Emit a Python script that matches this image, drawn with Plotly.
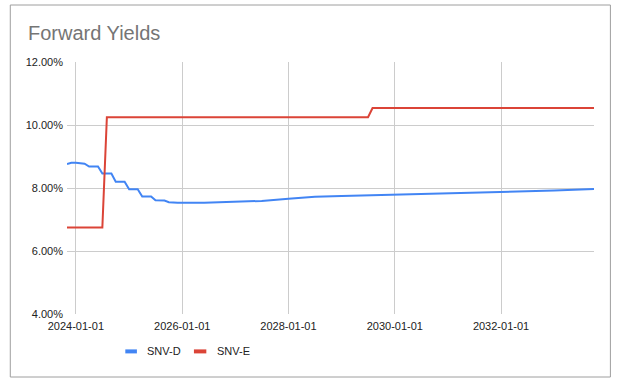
import plotly.graph_objects as go

# ---- data ----
snv_d_dates = ["2023-11-01", "2023-12-01", "2024-01-01", "2024-02-01", "2024-03-01",
               "2024-04-01", "2024-06-01", "2024-07-01", "2024-09-01", "2024-10-01",
               "2024-12-01", "2025-01-01", "2025-03-01", "2025-04-01", "2025-06-01",
               "2025-07-01", "2025-09-01", "2025-10-01", "2025-12-01", "2026-06-01",
               "2027-01-01", "2027-07-01", "2028-01-01", "2028-07-01", "2029-01-01",
               "2029-07-01", "2030-01-01", "2030-07-01", "2031-01-01", "2031-07-01",
               "2032-01-01", "2032-07-01", "2033-01-01", "2033-10-01"]
snv_d_values = [8.76, 8.80, 8.80, 8.78, 8.77,
                8.68, 8.68, 8.46, 8.46, 8.20,
                8.20, 7.96, 7.96, 7.73, 7.73,
                7.61, 7.60, 7.55, 7.53, 7.53,
                7.56, 7.59, 7.66, 7.72, 7.75,
                7.77, 7.79, 7.81, 7.83, 7.84,
                7.86, 7.89, 7.92, 7.97]

snv_e_dates = ["2023-11-01", "2024-07-01", "2024-08-01", "2029-07-01", "2029-08-01", "2033-10-01"]
snv_e_values = [6.75, 6.75, 10.25, 10.25, 10.54, 10.54]

y_ticks = [4, 6, 8, 10, 12]
y_tick_labels = ["4.00%", "6.00%", "8.00%", "10.00%", "12.00%"]
x_ticks = ["2024-01-01", "2026-01-01", "2028-01-01", "2030-01-01", "2032-01-01"]
series_names = ["SNV-D", "SNV-E"]
series_colors = ["#4285F4", "#DB4437"]

# ---- geometry ----
W, H = 619, 383
L, R, T, B = 67.4, 594.3, 62.3, 314.3
PW, PH = R - L, B - T

def px(x):
    return (x - L) / PW

def py(y):
    return (B - y) / PH

fig = go.Figure()
fig.add_trace(go.Scatter(x=snv_d_dates, y=snv_d_values, mode="lines", name=series_names[0],
                         line=dict(color=series_colors[0], width=2)))
fig.add_trace(go.Scatter(x=snv_e_dates, y=snv_e_values, mode="lines", name=series_names[1],
                         line=dict(color=series_colors[1], width=2)))

font_family = "Liberation Sans, Arial, sans-serif"

fig.update_layout(
    width=W, height=H,
    margin=dict(l=L, r=W - R, t=T, b=H - B, pad=0),
    paper_bgcolor="white", plot_bgcolor="white",
    showlegend=False,
    font=dict(family=font_family, size=11, color="#222222"),
    title=dict(text="Forward Yields", x=28 / W, xanchor="left", xref="container",
               y=1 - 33 / H, yanchor="middle", yref="container",
               font=dict(size=20, color="#757575", family=font_family)),
    xaxis=dict(range=[snv_e_dates[0], snv_e_dates[-1]], tickvals=x_ticks, ticktext=x_ticks,
               showgrid=True, gridcolor="#cccccc", gridwidth=1, zeroline=False,
               showline=False, ticks="", ticklabelstandoff=4,
               tickfont=dict(size=11, color="#222222")),
    yaxis=dict(range=[4, 12], tickvals=y_ticks, ticktext=y_tick_labels,
               showgrid=True, gridcolor="#cccccc", gridwidth=1, zeroline=False,
               showline=False, ticks="", ticklabelstandoff=3,
               tickfont=dict(size=11, color="#222222")),
)

# chart border
fig.add_shape(type="rect", xref="paper", yref="paper",
              x0=px(10.7), x1=px(610.7), y0=py(377.3), y1=py(5.3),
              line=dict(color="#9e9e9e", width=1), fillcolor="rgba(0,0,0,0)", layer="below")

# custom legend
legend_y = 351.7
swatch_x = [(125.7, 137.3), (194.3, 206.7)]
text_x = [145.7, 215.7]
for name, color, (sx0, sx1), tx in zip(series_names, series_colors, swatch_x, text_x):
    fig.add_shape(type="rect", xref="paper", yref="paper",
                  x0=px(sx0), x1=px(sx1), y0=py(legend_y + 2), y1=py(legend_y - 2),
                  line=dict(width=0), fillcolor=color)
    fig.add_annotation(xref="paper", yref="paper", x=px(tx), y=py(legend_y),
                       xanchor="left", yanchor="middle", showarrow=False, text=name,
                       font=dict(size=11, color="#222222", family=font_family))

fig.write_html("out.html", config={"displayModeBar": False},
               post_script="document.body.style.margin='0';")
